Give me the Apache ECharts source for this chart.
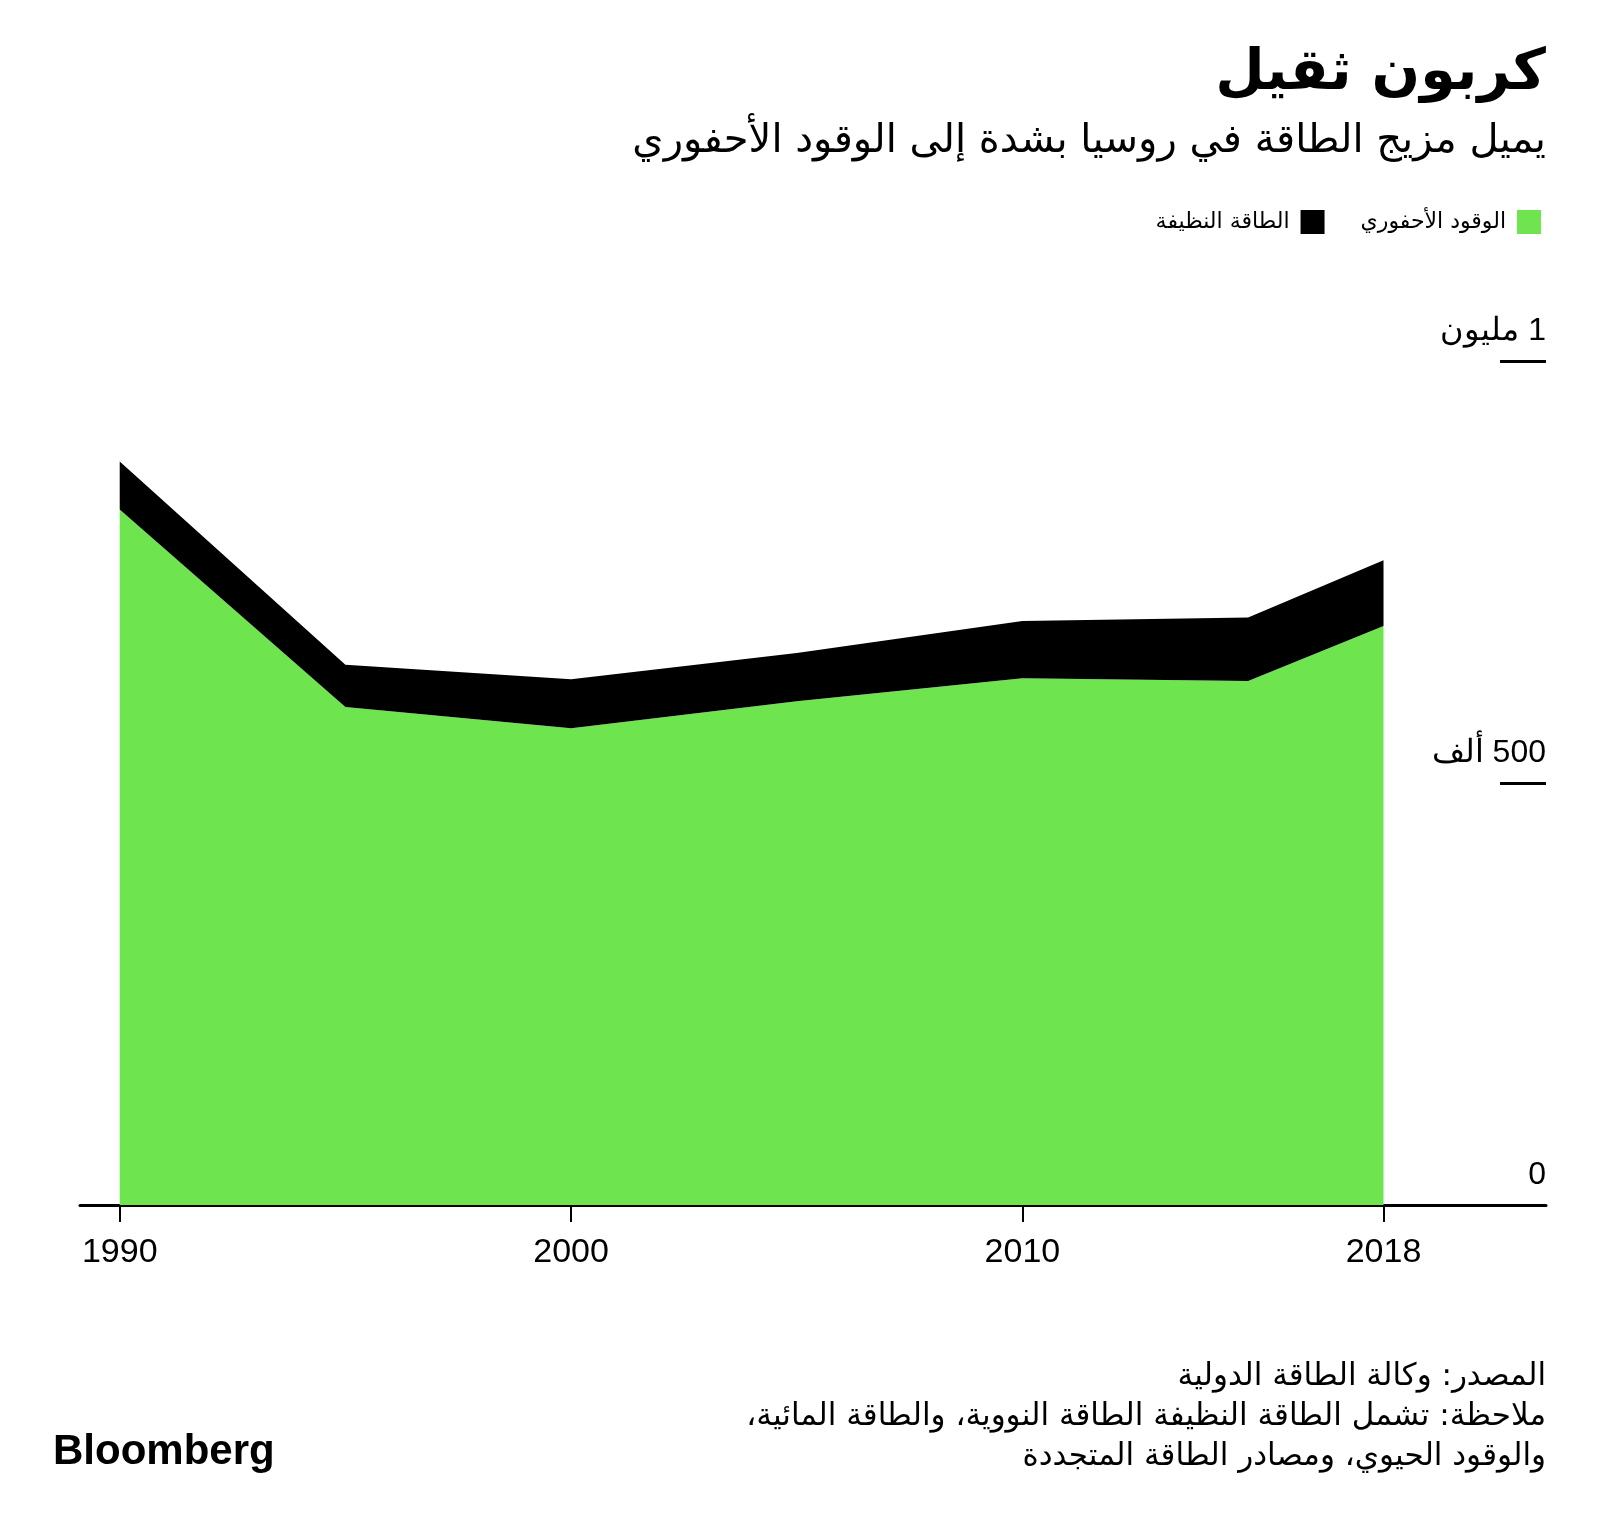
<!DOCTYPE html>
<html>
<head>
<meta charset="utf-8">
<script src="https://cdn.jsdelivr.net/npm/echarts@6/dist/echarts.min.js"></script>
<style>
html,body{margin:0;padding:0;background:#fff;overflow:hidden;}
#chart{width:1600px;height:1530px;}
</style>
</head>
<body>
<div id="chart" dir="rtl"></div>
<script>
// Data (thousand units)
const years = [1990, 1995, 2000, 2005, 2010, 2015, 2018];
const fossil = [824, 590, 565, 597, 624, 621, 686];
const clean = [57, 50, 58, 57, 68, 75, 78];
const xTickYears = [1990, 2000, 2010, 2018];
const yTickValues = [0, 500, 1000];
const yTickLabels = ['0', '500 ألف', '1 مليون'];
const seriesNames = ['الوقود الأحفوري', 'الطاقة النظيفة'];
const titleText = 'كربون ثقيل';
const subtitleText = 'يميل مزيج الطاقة في روسيا بشدة إلى الوقود الأحفوري';
const footerLines = [
  'المصدر: وكالة الطاقة الدولية',
  'ملاحظة: تشمل الطاقة النظيفة الطاقة النووية، والطاقة المائية،',
  'والوقود الحيوي، ومصادر الطاقة المتجددة'
];

const arFont = '"DejaVu Sans", "Noto Sans", sans-serif';
const numFont = '"Liberation Sans", Arial, sans-serif';
const GREEN = '#6ee54f';
const X_MIN = 1989.12, X_MAX = 2021.6;
const YEAR_MS = 365.25 * 864e5;
const EPOCH = Date.UTC(1990, 0, 1);
// linear year -> time mapping so both x axes line up exactly
const yearToTime = y => EPOCH + (y - 1990) * YEAR_MS;

const chart = echarts.init(document.getElementById('chart'), null, {renderer: 'canvas'});

const option = {
  backgroundColor: '#fff',
  animation: false,
  grid: {left: 80, right: 54, top: 361, bottom: 325, containLabel: false},
  legend: {
    data: [seriesNames[1], seriesNames[0]],
    right: 54,
    top: 205,
    align: 'right',
    icon: 'rect',
    itemWidth: 24,
    itemHeight: 24,
    itemGap: 36,
    textStyle: {fontFamily: arFont, fontSize: 22, color: '#000', padding: [0, 6, 0, 0]}
  },
  xAxis: [
    {
      // hidden time axis carrying the stacked series
      type: 'time',
      position: 'bottom',
      min: yearToTime(X_MIN),
      max: yearToTime(X_MAX),
      show: false,
      splitLine: {show: false}
    },
    {
      // visible year axis
      type: 'value',
      position: 'bottom',
      min: X_MIN,
      max: X_MAX,
      splitLine: {show: false},
      axisLine: {show: true, lineStyle: {color: '#000', width: 3}},
      axisTick: {show: true, customValues: xTickYears, length: 17, lineStyle: {color: '#000', width: 2}},
      axisLabel: {
        customValues: xTickYears,
        fontFamily: numFont, fontSize: 34, color: '#000', margin: 31,
        formatter: v => String(v)
      }
    }
  ],
  yAxis: {
    type: 'value',
    position: 'right',
    min: 0,
    max: 1000,
    interval: 500,
    splitLine: {show: false},
    axisLine: {show: false},
    axisTick: {show: true, inside: true, length: 46, lineStyle: {color: '#000', width: 3}},
    axisLabel: {
      inside: true,
      margin: 0,
      fontFamily: numFont,
      fontSize: 32,
      color: '#000',
      verticalAlign: 'bottom',
      padding: [0, 0, 14, 0],
      formatter: v => {
        const i = yTickValues.indexOf(v);
        return i >= 0 ? yTickLabels[i] : '';
      }
    }
  },
  series: [
    {
      name: seriesNames[0],
      type: 'line',
      xAxisIndex: 0,
      stack: 'total',
      data: years.map((y, i) => [yearToTime(y), fossil[i]]),
      symbol: 'none',
      color: GREEN,
      lineStyle: {width: 0},
      areaStyle: {color: GREEN, opacity: 1},
      z: 1
    },
    {
      name: seriesNames[1],
      type: 'line',
      xAxisIndex: 0,
      stack: 'total',
      data: years.map((y, i) => [yearToTime(y), clean[i]]),
      symbol: 'none',
      color: '#000',
      lineStyle: {width: 0},
      areaStyle: {color: '#000', opacity: 1},
      z: 1
    }
  ],
  graphic: [
    {type: 'text', right: 54, top: 46, style: {text: titleText, font: 'bold 57px ' + arFont, fill: '#000', textAlign: 'right'}},
    {type: 'text', right: 54, top: 122, style: {text: subtitleText, font: '40px ' + arFont, fill: '#000', textAlign: 'right'}},
    {type: 'text', right: 54, top: 1361, style: {text: footerLines[0], font: '31px ' + arFont, fill: '#000', textAlign: 'right'}},
    {type: 'text', right: 54, top: 1401, style: {text: footerLines[1], font: '31px ' + arFont, fill: '#000', textAlign: 'right'}},
    {type: 'text', right: 54, top: 1441, style: {text: footerLines[2], font: '31px ' + arFont, fill: '#000', textAlign: 'right'}},
    {type: 'text', left: 53, top: 1431, style: {text: 'Bloomberg', font: 'bold 42px ' + numFont, fill: '#000'}}
  ]
};
chart.setOption(option);
</script>
</body>
</html>
